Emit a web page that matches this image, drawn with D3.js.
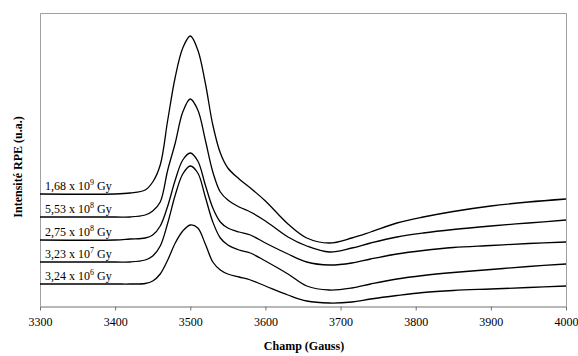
<!DOCTYPE html>
<html><head><meta charset="utf-8">
<script src="https://cdn.jsdelivr.net/npm/d3@7"></script>
<style>
body{margin:0;background:#fff;}
svg{display:block;font-family:"Liberation Serif","Times New Roman",serif;}
</style></head>
<body><svg id="chart" width="578" height="356"></svg>
<script>
const fields = [3300,3400,3420,3440,3450,3460,3470,3480,3490,3500,3510,3520,3530,3540,3550,3565,3580,3600,3630,3655,3685,3715,3740,3775,3810,3850,3900,3950,4000];
const doseMantissa = ["1,68","5,53","2,75","3,23","3,24"];
const doseExponent = ["9","8","8","7","6"];
const s1 = [112,112,113,116,124,141,186,229,258,270,256,223,181,153,138,127,118,105,82,68,63,68,74,83,89,94.5,100,104,107];
const s2 = [89,89,89,91,95,104,136,163,194,207,196,166,134,114,106,99,94,85,69,60,54,58,63,69,73,76.5,80,83,86];
const s3 = [66,66,67,68,71,80,100,126,146,153,145,121,98,84,78,74,71,63,52,44,41,43,47,52,55.5,58.5,60.5,62.5,64];
const s4 = [44,44,44,46,50,60,83,111,132,140,133,109,84,68,61,56,53,45,32,20,16,18,22,27,30.5,33.5,36.5,39.5,42];
const s5 = [22,22,22,22.5,25,32,46,63,75,81,78,62,44,36,32,29,26,20,11,5,3,4,7,10.5,13.5,15.5,17,18.5,20];
const seriesList = [s1,s2,s3,s4,s5];
const xTicks = [3300,3400,3500,3600,3700,3800,3900,4000];

const svg = d3.select("#chart");
const m = {l:40, r:566, t:13, b:306};
const x = d3.scaleLinear().domain([3300,4000]).range([m.l, m.r]);
const y = d3.scaleLinear().domain([0,293]).range([m.b, m.t]);

// frame
svg.append("path")
  .attr("d", `M${m.l+0.5},${m.b}V${m.t+0.5}H${m.r+0.5}V${m.b}`)
  .attr("fill","none").attr("stroke","#a0a0a0").attr("stroke-width",1);

// x axis
const xAxis = d3.axisBottom(x).tickValues(xTicks).tickFormat(d3.format("d")).tickSize(4).tickSizeOuter(0);
const gx = svg.append("g").attr("transform",`translate(0,${m.b+0.5})`).call(xAxis);
gx.select(".domain").attr("stroke","#707070");
gx.selectAll(".tick line").attr("stroke","#707070");
gx.selectAll("text").attr("font-size","12px").attr("fill","#000")
  .attr("font-family","Liberation Serif, serif").attr("dy","1.0em");

// axis titles
svg.append("text").attr("x",(m.l+m.r)/2+1).attr("y",350)
  .attr("text-anchor","middle").attr("font-size","12px").attr("font-weight","bold")
  .text("Champ (Gauss)");
svg.append("text").attr("transform","translate(22,167) rotate(-90)")
  .attr("text-anchor","middle").attr("font-size","12px").attr("font-weight","bold")
  .text("Intensité RPE (u.a.)");

// curves
const line = d3.line().x((d,i)=>x(fields[i])).y(d=>y(d)).curve(d3.curveCatmullRom.alpha(0.5));
svg.append("g").selectAll("path").data(seriesList).join("path")
  .attr("d", line).attr("fill","none").attr("stroke","#000").attr("stroke-width",1.3);

// labels
const lab = svg.append("g").selectAll("text").data(seriesList).join("text")
  .attr("x",45).attr("y",d=>y(d[0])-4).attr("font-size","12px");
lab.each(function(d,i){
  const t = d3.select(this);
  t.append("tspan").text(doseMantissa[i] + " x 10");
  t.append("tspan").attr("dy",-5).attr("font-size","8px").text(doseExponent[i]);
  t.append("tspan").attr("dy",5).text(" Gy");
});
</script></body></html>
